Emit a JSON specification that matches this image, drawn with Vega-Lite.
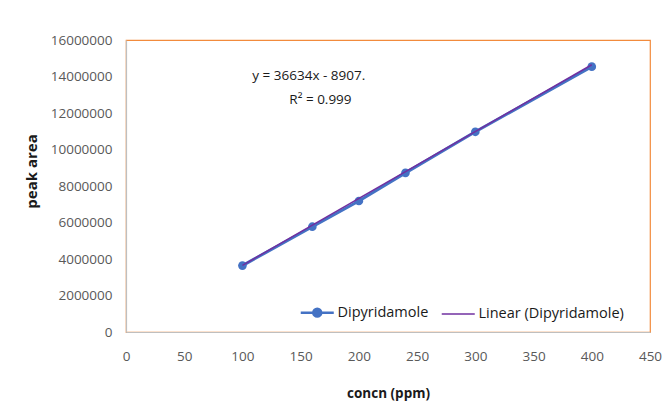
{
  "$schema": "https://vega.github.io/schema/vega-lite/v6.json",
  "width": 524,
  "height": 292,
  "autosize": {"type": "none"},
  "padding": {"left": 126, "top": 40, "right": 19, "bottom": 76},
  "background": "white",
  "config": {
    "font": "Open Sans",
    "view": {"stroke": "#F28B3C", "strokeWidth": 1.2},
    "axis": {
      "grid": false,
      "ticks": false,
      "domainColor": "#BFBFBF",
      "domainWidth": 1.2,
      "labelColor": "#595959",
      "labelFont": "Open Sans",
      "labelFontSize": 13.5,
      "titleFont": "Open Sans",
      "titleFontSize": 13.5,
      "titleFontWeight": "bold",
      "titleColor": "#1a1a1a",
      "zindex": 1
    }
  },
  "datasets": {
    "pts": [
      {"concn": 100, "area": 3640000, "series": "Dipyridamole"},
      {"concn": 160, "area": 5770000, "series": "Dipyridamole"},
      {"concn": 200, "area": 7180000, "series": "Dipyridamole"},
      {"concn": 240, "area": 8720000, "series": "Dipyridamole"},
      {"concn": 300, "area": 10970000, "series": "Dipyridamole"},
      {"concn": 400, "area": 14540000, "series": "Dipyridamole"}
    ],
    "trend": [
      {"concn": 100, "area": 3654493, "series": "Linear (Dipyridamole)"},
      {"concn": 400, "area": 14644693, "series": "Linear (Dipyridamole)"}
    ],
    "eq": [
      {"concn": 157, "area": 14030000, "label": "y = 36634x - 8907."},
      {"concn": 167, "area": 12710000, "label": "R² = 0.999"}
    ]
  },
  "encoding": {
    "x": {
      "field": "concn", "type": "quantitative",
      "scale": {"domain": [0, 450], "nice": false},
      "axis": {"values": [0, 50, 100, 150, 200, 250, 300, 350, 400, 450], "tickCount": 12, "title": "concn (ppm)", "labelPadding": 17, "titlePadding": 24, "labelFlush": false, "labelOverlap": false}
    },
    "y": {
      "field": "area", "type": "quantitative",
      "scale": {"domain": [0, 16000000], "nice": false},
      "axis": {"values": [0, 2000000, 4000000, 6000000, 8000000, 10000000, 12000000, 14000000, 16000000], "tickCount": 10, "format": "d", "title": "peak area", "labelPadding": 14, "titlePadding": 11, "labelFlush": false, "labelOverlap": false, "titleFontSize": 15, "titleY": 131}
    }
  },
  "layer": [
    {
      "data": {"name": "pts"},
      "mark": {"type": "line", "strokeWidth": 3},
      "encoding": {
        "color": {
          "field": "series", "type": "nominal",
          "scale": {"domain": ["Dipyridamole", "Linear (Dipyridamole)"], "range": ["#4472C4", "#7030A0"]},
          "legend": {
            "orient": "none",
            "legendX": 184,
            "legendY": 265,
            "direction": "horizontal",
            "title": null,
            "symbolType": "M-1,0H1M-0.24,0a0.24,0.24 0 1,0 0.48,0a0.24,0.24 0 1,0 -0.48,0",
            "symbolSize": 1090,
            "symbolStrokeWidth": 2,
            "labelFont": "Open Sans",
            "labelFontSize": 14.5,
            "labelColor": "#1a1a1a",
            "labelOffset": 13,
            "columnPadding": 9,
            "encode": {
              "symbols": {
                "update": {
                  "fill": {"field": "value", "scale": "color"},
                  "fillOpacity": {"value": 1},
                  "shape": {"signal": "datum.value === 'Dipyridamole' ? 'M-1,0H1M-0.24,0a0.24,0.24 0 1,0 0.48,0a0.24,0.24 0 1,0 -0.48,0' : 'M-1,0H1'"},
                  "strokeWidth": {"signal": "datum.value === 'Dipyridamole' ? 2.5 : 1.5"}
                }
              }
            }
          }
        }
      }
    },
    {
      "data": {"name": "pts"},
      "mark": {"type": "point", "filled": true, "size": 75, "opacity": 1, "color": "#4472C4"}
    },
    {
      "data": {"name": "trend"},
      "mark": {"type": "line", "strokeWidth": 1.5},
      "encoding": {
        "color": {"field": "series", "type": "nominal"}
      }
    },
    {
      "data": {"name": "eq"},
      "mark": {"type": "text", "font": "Open Sans", "fontSize": 13.5, "color": "#1a1a1a", "align": "center"},
      "encoding": {
        "text": {"field": "label"}
      }
    }
  ]
}
